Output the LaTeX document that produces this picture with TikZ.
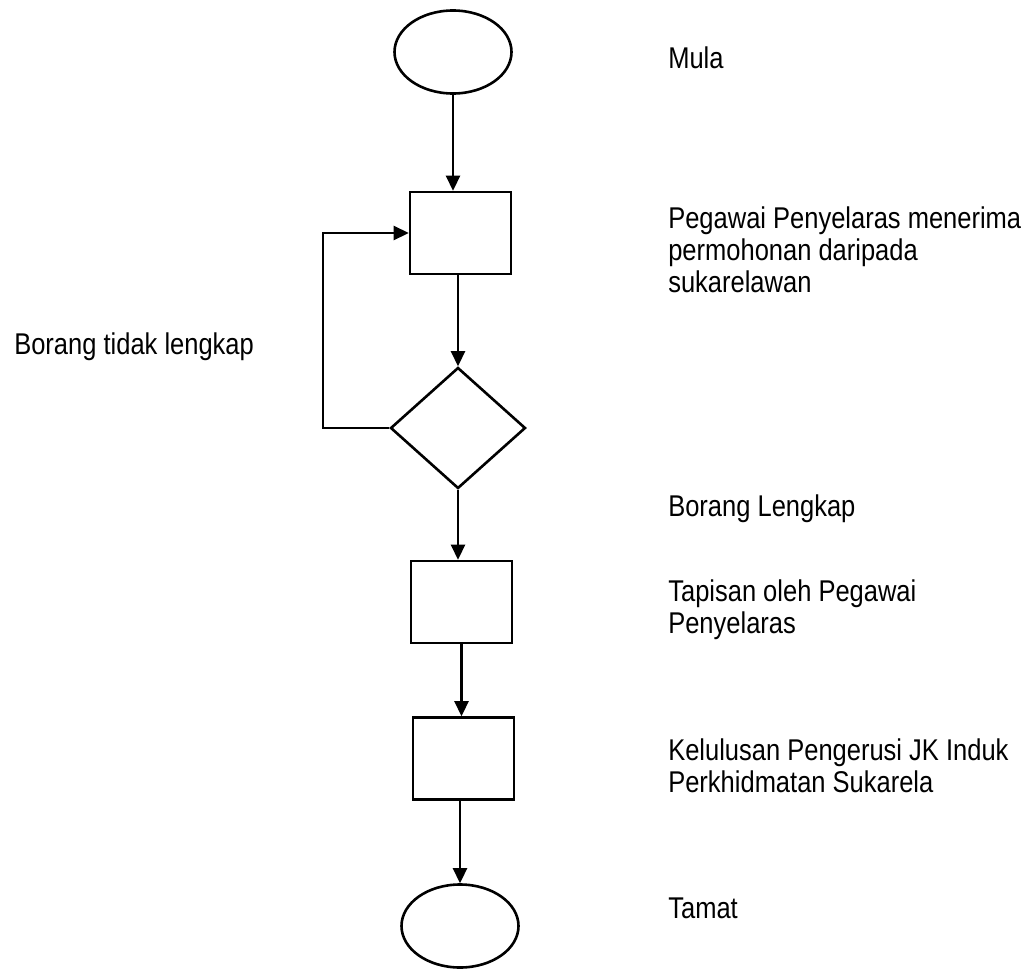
\documentclass[tikz,border=0pt]{standalone}
\usepackage{fontspec}
\setmainfont{Liberation Sans}[FakeStretch=0.85]
\usetikzlibrary{shapes.geometric,arrows.meta}

\begin{document}
\begin{tikzpicture}[x=0.5pt, y=-0.5pt, line width=1.3pt,
    term/.style={draw, ellipse, inner sep=0pt, minimum width=58.5pt, minimum height=41.5pt},
    proc/.style={draw, rectangle, inner sep=0pt, minimum width=50.5pt, minimum height=41pt},
    decide/.style={draw, diamond, inner sep=0pt, minimum width=67.5pt, minimum height=60.5pt},
    lbl/.style={anchor=north west, inner sep=0pt, align=left, font=\fontsize{15pt}{16pt}\selectfont},
    flow/.style={-{Triangle[length=7.5pt, width=7pt]}}]
\useasboundingbox (0,0) rectangle (1024,969);
\node[term]   (start)   at (453,52)    {};
\node[proc]   (recv)    at (460.5,233) {};
\node[decide] (check)   at (458,428)   {};
\node[proc]   (screen)  at (461.5,602) {};
\node[proc]   (approve) at (463.5,758.5) {};
\node[term]   (stop)    at (460,926)   {};
\node[lbl] (tstart)   at (667,45)  {Mula};
\node[lbl] (trecv)    at (667,205) {Pegawai Penyelaras menerima\\permohonan daripada\\sukarelawan};
\node[lbl] (tno)      at (13,331)  {Borang tidak lengkap};
\node[lbl] (tyes)     at (667,493) {Borang Lengkap};
\node[lbl] (tscreen)  at (667,578) {Tapisan oleh Pegawai\\Penyelaras};
\node[lbl] (tapprove) at (667,737) {Kelulusan Pengerusi JK Induk\\Perkhidmatan Sukarela};
\node[lbl] (tstop)    at (667,897) {Tamat};
\draw[flow] (start.south) -- (start.south |- recv.north);
\draw[flow] (recv.south -| check) -- (check.north);
\draw[flow] (check.south) -- (check.south |- screen.north);
\draw[flow] (screen.south) -- (screen.south |- approve.north);
\draw[flow] (approve.south -| stop) -- (stop.north);
\coordinate (back) at (323,428);
\draw[flow] (check.west) -- (back) |- (recv.west);
\end{tikzpicture}
\end{document}
